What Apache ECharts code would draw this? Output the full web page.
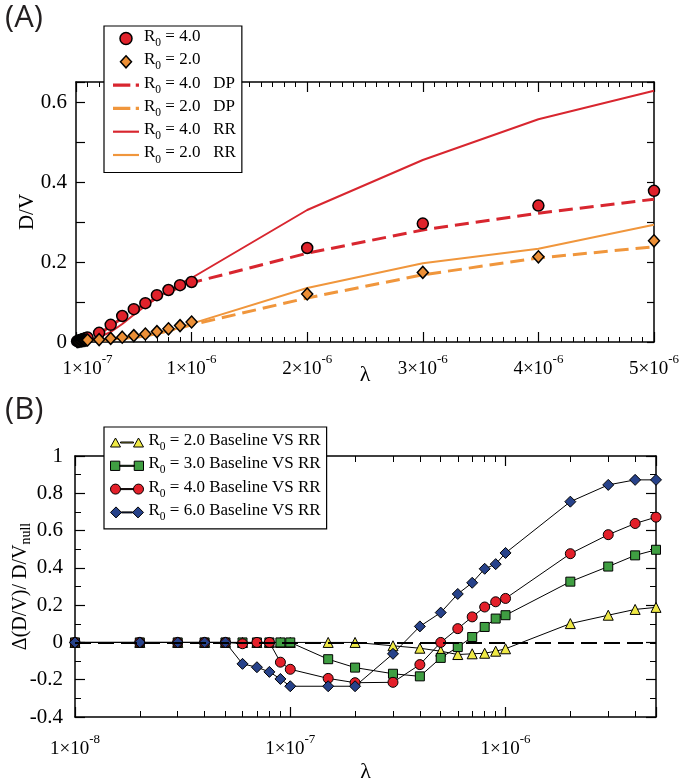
<!DOCTYPE html>
<html><head><meta charset="utf-8">
<script src="https://cdn.jsdelivr.net/npm/echarts@6/dist/echarts.min.js"></script>
<style>html,body{margin:0;padding:0;background:#fff}#c{width:685px;height:784px}</style>
</head><body><div id="c"></div>
<script>
// ---------- Panel A data ----------
const lambdaA = [1e-8,2e-8,3e-8,4e-8,5e-8,6e-8,7e-8,8e-8,9e-8,1e-7,2e-7,3e-7,4e-7,5e-7,6e-7,7e-7,8e-7,9e-7,1e-6,2e-6,3e-6,4e-6,5e-6];
const dotsR4 = [0.002,0.003,0.004,0.005,0.006,0.007,0.008,0.009,0.010,0.011,0.023,0.043,0.065,0.082,0.097,0.117,0.130,0.142,0.150,0.235,0.296,0.341,0.378];
const dotsR2 = [0.001,0.0015,0.002,0.0025,0.003,0.0035,0.004,0.0045,0.005,0.005,0.006,0.009,0.012,0.016,0.020,0.026,0.033,0.041,0.050,0.120,0.174,0.213,0.253];
const dpR4   = [0.001,0.002,0.003,0.004,0.005,0.006,0.007,0.008,0.009,0.010,0.020,0.040,0.060,0.078,0.095,0.110,0.125,0.137,0.148,0.222,0.280,0.322,0.357];
const dpR2   = [0.001,0.001,0.0015,0.0015,0.002,0.002,0.0025,0.0025,0.003,0.003,0.004,0.006,0.009,0.013,0.017,0.022,0.028,0.035,0.043,0.110,0.168,0.210,0.238];
const rrR4   = [0,0,0,0,0.001,0.001,0.002,0.002,0.003,0.004,0.012,0.025,0.045,0.068,0.090,0.110,0.128,0.145,0.160,0.330,0.455,0.557,0.628];
const rrR2   = [0.004,0.004,0.004,0.004,0.004,0.004,0.004,0.004,0.004,0.004,0.005,0.006,0.008,0.010,0.014,0.020,0.027,0.036,0.046,0.135,0.197,0.233,0.293];
const ticksA_x = [1e-7,1e-6,2e-6,3e-6,4e-6,5e-6];
const ticksA_y = [0,0.2,0.4,0.6];

// ---------- Panel B data ----------
const lambdaB = [1e-8,2e-8,3e-8,4e-8,5e-8,6e-8,7e-8,8e-8,9e-8,1e-7,1.5e-7,2e-7,3e-7,4e-7,5e-7,6e-7,7e-7,8e-7,9e-7,1e-6,2e-6,3e-6,4e-6,5e-6];
const baseR2 = [0,0,0,0,0,0,0,0,0,0,0,0,-0.018,-0.031,-0.047,-0.065,-0.061,-0.058,-0.047,-0.034,0.101,0.146,0.177,0.188];
const baseR3 = [0,0,0,0,0,0,0,0,0,0,-0.090,-0.135,-0.168,-0.182,-0.083,-0.025,0.029,0.083,0.128,0.146,0.326,0.407,0.467,0.497];
const baseR4 = [0,0,0,0,0,-0.007,0,0,-0.106,-0.144,-0.193,-0.216,-0.214,-0.119,0,0.074,0.137,0.190,0.218,0.236,0.476,0.578,0.638,0.672];
const baseR6 = [0,0,0,0,0,-0.115,-0.133,-0.158,-0.196,-0.235,-0.235,-0.235,-0.061,0.086,0.160,0.260,0.320,0.395,0.420,0.480,0.755,0.845,0.872,0.872];
const minorB_x = [2e-8,3e-8,4e-8,5e-8,6e-8,7e-8,8e-8,9e-8,2e-7,3e-7,4e-7,5e-7,6e-7,7e-7,8e-7,9e-7,2e-6,3e-6,4e-6,5e-6];

const serif = 'Liberation Serif';
const RED = '#e0222b', RED_L = '#d8262f', ORG = '#ec8f36', ORG_L = '#f0963c';
const YEL = '#efe945', GRN = '#3f9e42', BLU = '#27428a', RED_B = '#e3202a';

const zip = (xs, ys) => xs.map((x, i) => [x, ys[i]]);
const supRich = {
  b: {fontFamily: serif, fontSize: 19, color: '#000', lineHeight: 26, verticalAlign: 'bottom'},
  s: {fontFamily: serif, fontSize: 13, color: '#000', lineHeight: 26, verticalAlign: 'top'}
};
function sciLabel(v) {
  const e = Math.floor(Math.log10(v) + 1e-9);
  const m = Math.round(v / Math.pow(10, e));
  return '{b|' + m + '×10}{s|' + e + '}';
}
function decadeLabel(v) {
  const e = Math.round(Math.log10(v));
  if (Math.abs(v - Math.pow(10, e)) / Math.pow(10, e) > 1e-6) return '';
  return '{b|1×10}{s|' + e + '}';
}
const legRich = {
  r: {fontFamily: serif, fontSize: 17, color: '#000', lineHeight: 21, verticalAlign: 'top'},
  s: {fontFamily: serif, fontSize: 11.5, color: '#000', lineHeight: 21, verticalAlign: 'bottom'}
};
const legFmt = name => '{r|R}{s|0}{r|' + name.slice(2) + '}';

const lineBlack = {show: true, onZero: false, lineStyle: {color: '#000', width: 1.5}};
const noLine = {show: false, onZero: false};
const noSplit = {show: false};
const tickMaj = len => ({show: true, inside: true, length: len, lineStyle: {color: '#000', width: 1.2}});
const tickMin = (len, n) => ({show: true, splitNumber: n, length: len, lineStyle: {color: '#000', width: 1}});

const option = {
  backgroundColor: '#fff',
  animation: false,
  title: [
    {text: '(A)', left: 0, top: -2, textStyle: {fontFamily: 'Open Sans', fontWeight: 'normal', fontSize: 31, color: '#231f20'}},
    {text: '(B)', left: 0, top: 390, textStyle: {fontFamily: 'Open Sans', fontWeight: 'normal', fontSize: 31, color: '#231f20'}}
  ],
  grid: [
    {left: 76, top: 82, width: 578, height: 260, outerBoundsMode: 'none', containLabel: false},
    {left: 75, top: 456, width: 581, height: 261, outerBoundsMode: 'none', containLabel: false}
  ],
  xAxis: [
    {gridIndex: 0, type: 'value', position: 'bottom', min: 0, max: 5e-6, interval: 1e-6,
     axisLine: lineBlack, axisTick: tickMaj(10), minorTick: tickMin(5, 10), splitLine: noSplit, minorSplitLine: noSplit,
     axisLabel: {customValues: ticksA_x, formatter: sciLabel, rich: supRich, margin: 11},
     name: 'λ', nameLocation: 'middle', nameGap: 22, nameMoveOverlap: false,
     nameTextStyle: {fontFamily: serif, fontSize: 22, color: '#000'}},
    {gridIndex: 0, type: 'value', position: 'top', min: 0, max: 5e-6, interval: 1e-6,
     axisLine: lineBlack, axisTick: tickMaj(10), minorTick: tickMin(5, 10), splitLine: noSplit, minorSplitLine: noSplit,
     axisLabel: {show: false}},
    {gridIndex: 1, type: 'log', logBase: 10, position: 'bottom', min: 1e-8, max: 5e-6,
     axisLine: lineBlack, axisTick: tickMaj(10), splitLine: noSplit, minorSplitLine: noSplit,
     axisLabel: {formatter: decadeLabel, rich: supRich, margin: 16, showMinLabel: true, showMaxLabel: true},
     name: 'λ', nameLocation: 'middle', nameGap: 44, nameMoveOverlap: false,
     nameTextStyle: {fontFamily: serif, fontSize: 22, color: '#000'}},
    {gridIndex: 1, type: 'log', logBase: 10, position: 'top', min: 1e-8, max: 5e-6,
     axisLine: lineBlack, axisTick: tickMaj(10), splitLine: noSplit, minorSplitLine: noSplit, axisLabel: {show: false}},
    {gridIndex: 1, type: 'value', position: 'bottom', min: -8, max: Math.log10(5e-6),
     axisLine: noLine, axisTick: {show: true, inside: true, length: 6, customValues: minorB_x.map(Math.log10), lineStyle: {color: '#000', width: 1}},
     splitLine: noSplit, axisLabel: {show: false}},
    {gridIndex: 1, type: 'value', position: 'top', min: -8, max: Math.log10(5e-6),
     axisLine: noLine, axisTick: {show: true, inside: true, length: 6, customValues: minorB_x.map(Math.log10), lineStyle: {color: '#000', width: 1}},
     splitLine: noSplit, axisLabel: {show: false}}
  ],
  yAxis: [
    {gridIndex: 0, type: 'value', position: 'left', min: 0, max: 0.65, interval: 0.1,
     axisLine: lineBlack, axisTick: tickMaj(9), splitLine: noSplit,
     axisLabel: {customValues: ticksA_y, fontFamily: serif, fontSize: 21, color: '#000', margin: 9},
     name: 'D/V', nameLocation: 'middle', nameGap: 38, nameMoveOverlap: false,
     nameTextStyle: {fontFamily: serif, fontSize: 21, color: '#000'}},
    {gridIndex: 0, type: 'value', position: 'right', min: 0, max: 0.65, interval: 0.1,
     axisLine: lineBlack, axisTick: tickMaj(7), splitLine: noSplit, axisLabel: {show: false}},
    {gridIndex: 1, type: 'value', position: 'left', min: -0.4, max: 1, interval: 0.2,
     axisLine: lineBlack, axisTick: tickMaj(10), minorTick: tickMin(6, 2), splitLine: noSplit, minorSplitLine: noSplit,
     axisLabel: {fontFamily: serif, fontSize: 21, color: '#000', margin: 12},
     name: '{a|Δ(D/V)/ D/V}{s|null}', nameLocation: 'middle', nameGap: 42, nameMoveOverlap: false,
     nameTextStyle: {rich: {
       a: {fontFamily: serif, fontSize: 20, color: '#000', lineHeight: 24},
       s: {fontFamily: serif, fontSize: 14, color: '#000', lineHeight: 24, verticalAlign: 'bottom'}}}},
    {gridIndex: 1, type: 'value', position: 'right', min: -0.4, max: 1, interval: 0.2,
     axisLine: lineBlack, axisTick: tickMaj(10), minorTick: tickMin(6, 2), splitLine: noSplit, minorSplitLine: noSplit,
     axisLabel: {show: false}}
  ],
  legend: [
    {left: 104, top: 26, orient: 'vertical', padding: [2, 6, 7, 9], itemGap: 2.3, itemWidth: 26, itemHeight: 12,
     borderColor: '#000', borderWidth: 1.2, backgroundColor: '#fff', selectedMode: false, symbolKeepAspect: true,
     formatter: legFmt, textStyle: {rich: legRich},
     data: [
       {name: 'R0 = 4.0', icon: 'circle', itemStyle: {color: RED, borderColor: '#000', borderWidth: 1.5}},
       {name: 'R0 = 2.0', icon: 'path://M5.5,0L11,6L5.5,12L0,6Z', itemStyle: {color: ORG, borderColor: '#000', borderWidth: 1.5}},
       {name: 'R0 = 4.0   DP', icon: 'path://M0,0H16V3H0Z M21,0H24V3H21Z', itemStyle: {color: RED_L, borderWidth: 0}},
       {name: 'R0 = 2.0   DP', icon: 'path://M0,0H16V3H0Z M21,0H24V3H21Z', itemStyle: {color: ORG_L, borderWidth: 0}},
       {name: 'R0 = 4.0   RR', icon: 'path://M0,0H24V2H0Z', itemStyle: {color: RED_L, borderWidth: 0}},
       {name: 'R0 = 2.0   RR', icon: 'path://M0,0H24V2H0Z', itemStyle: {color: ORG_L, borderWidth: 0}}
     ]},
    {left: 104, top: 427, orient: 'vertical', padding: [5, 6, 6, 6], itemGap: 2.3, itemWidth: 33, itemHeight: 11,
     borderColor: '#000', borderWidth: 1.2, backgroundColor: '#fff', selectedMode: false, symbolKeepAspect: true,
     formatter: legFmt, textStyle: {rich: legRich},
     data: [
       {name: 'R0 = 2.0 Baseline VS RR', icon: 'path://M0,10L5,1L10,10Z M10,5H23V6H10Z M23,10L28,1L33,10Z', itemStyle: {color: YEL, borderColor: '#000', borderWidth: 1}},
       {name: 'R0 = 3.0 Baseline VS RR', icon: 'path://M0.5,1H9.5V10H0.5Z M9.5,5H23.5V6H9.5Z M23.5,1H32.5V10H23.5Z', itemStyle: {color: GRN, borderColor: '#000', borderWidth: 1}},
       {name: 'R0 = 4.0 Baseline VS RR', icon: 'path://M0,5.5A5,5 0 1 1 10,5.5A5,5 0 1 1 0,5.5Z M10,5H23V6H10Z M23,5.5A5,5 0 1 1 33,5.5A5,5 0 1 1 23,5.5Z', itemStyle: {color: RED_B, borderColor: '#000', borderWidth: 1}},
       {name: 'R0 = 6.0 Baseline VS RR', icon: 'path://M0,5.5L5.5,0L11,5.5L5.5,11Z M11,5H22V6H11Z M22,5.5L27.5,0L33,5.5L27.5,11Z', itemStyle: {color: BLU, borderColor: '#000', borderWidth: 1}}
     ]}
  ],
  series: [
    {name: 'R0 = 4.0   DP', type: 'line', xAxisIndex: 0, yAxisIndex: 0, data: zip(lambdaA, dpR4), showSymbol: false, symbol: 'none',
     lineStyle: {color: RED_L, width: 3, type: [14, 7]}, z: 2},
    {name: 'R0 = 2.0   DP', type: 'line', xAxisIndex: 0, yAxisIndex: 0, data: zip(lambdaA, dpR2), showSymbol: false, symbol: 'none',
     lineStyle: {color: ORG_L, width: 3, type: [14, 7]}, z: 2},
    {name: 'R0 = 4.0   RR', type: 'line', xAxisIndex: 0, yAxisIndex: 0, data: zip(lambdaA, rrR4), showSymbol: false, symbol: 'none',
     lineStyle: {color: RED_L, width: 2}, z: 2},
    {name: 'R0 = 2.0   RR', type: 'line', xAxisIndex: 0, yAxisIndex: 0, data: zip(lambdaA, rrR2), showSymbol: false, symbol: 'none',
     lineStyle: {color: ORG_L, width: 2}, z: 2},
    {name: 'R0 = 4.0', type: 'scatter', xAxisIndex: 0, yAxisIndex: 0, data: zip(lambdaA, dotsR4), symbol: 'circle', symbolSize: 11,
     itemStyle: {color: RED, borderColor: '#000', borderWidth: 1.5, opacity: 1}, z: 3},
    {name: 'R0 = 2.0', type: 'scatter', xAxisIndex: 0, yAxisIndex: 0, data: zip(lambdaA, dotsR2), symbol: 'diamond', symbolSize: [11, 12],
     itemStyle: {color: ORG, borderColor: '#000', borderWidth: 1.5, opacity: 1}, z: 3},
    {name: 'R0 = 2.0 Baseline VS RR', type: 'line', xAxisIndex: 2, yAxisIndex: 2, data: zip(lambdaB, baseR2), symbol: 'triangle', symbolSize: 10,
     itemStyle: {color: YEL, borderColor: '#000', borderWidth: 1}, lineStyle: {color: '#000', width: 1},
     markLine: {silent: true, symbol: ['none', 'none'], label: {show: false}, lineStyle: {color: '#000', width: 2, type: [16, 7]}, data: [{yAxis: 0}]}},
    {name: 'R0 = 3.0 Baseline VS RR', type: 'line', xAxisIndex: 2, yAxisIndex: 2, data: zip(lambdaB, baseR3), symbol: 'rect', symbolSize: 9,
     itemStyle: {color: GRN, borderColor: '#000', borderWidth: 1}, lineStyle: {color: '#000', width: 1}},
    {name: 'R0 = 4.0 Baseline VS RR', type: 'line', xAxisIndex: 2, yAxisIndex: 2, data: zip(lambdaB, baseR4), symbol: 'circle', symbolSize: 10,
     itemStyle: {color: RED_B, borderColor: '#000', borderWidth: 1}, lineStyle: {color: '#000', width: 1}},
    {name: 'R0 = 6.0 Baseline VS RR', type: 'line', xAxisIndex: 2, yAxisIndex: 2, data: zip(lambdaB, baseR6), symbol: 'diamond', symbolSize: 11,
     itemStyle: {color: BLU, borderColor: '#000', borderWidth: 1}, lineStyle: {color: '#000', width: 1}}
  ]
};
const chart = echarts.init(document.getElementById('c'), null, {renderer: 'canvas'});
chart.setOption(option);
</script>
</body></html>
